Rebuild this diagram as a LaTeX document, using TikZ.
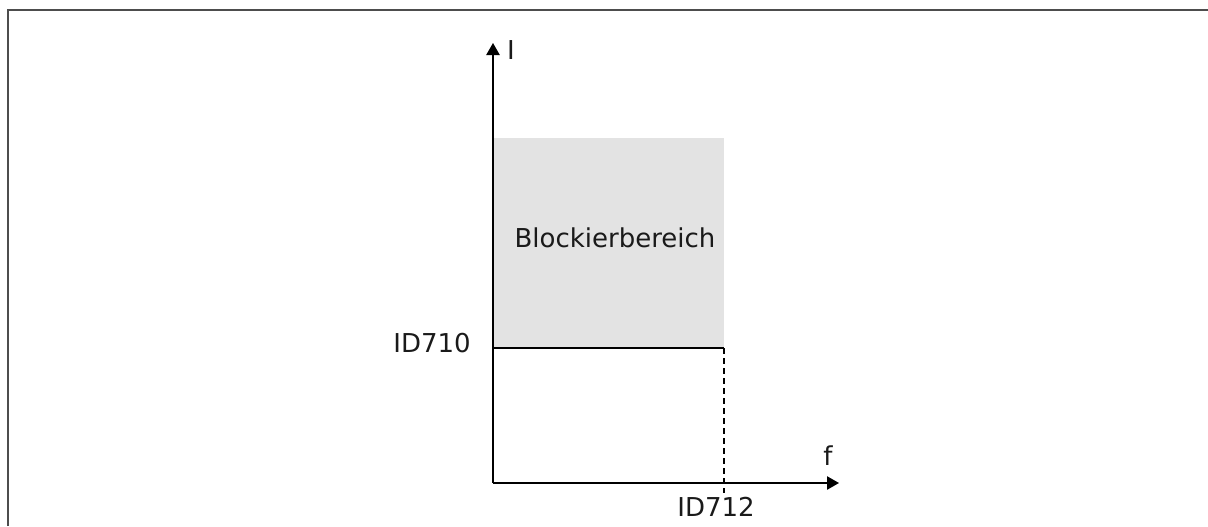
\documentclass[tikz,border=0pt]{standalone}
\usepackage{fontspec}
\setmainfont{DejaVu Sans}
\usetikzlibrary{arrows.meta}
\definecolor{areagray}{HTML}{E3E3E3}
\definecolor{framegray}{HTML}{4D4D4D}
\definecolor{txt}{HTML}{1A1A1A}
\begin{document}
\begin{tikzpicture}[x=0.75pt,y=-0.75pt,
                    lbl/.style={inner sep=0pt,anchor=base,text=txt,
                                font=\fontsize{19.5}{23}\selectfont},
                    axis/.style={line width=1.1pt,-{Triangle[length=9pt,width=10pt]}}]
  % stall region: current I above ID710 while frequency f is below ID712
  \useasboundingbox (0,0) rectangle (1208,526);
  \draw[framegray,line width=1.6pt] (8,526) -- (8,10) -- (1208,10);
  \fill[areagray] (493,138) rectangle (724,348);
  \coordinate (O) at (493,483);
  \coordinate (ytip) at (493,43);
  \coordinate (xtip) at (839,483);
  \coordinate (lvl) at (493,348);
  \coordinate (lim) at (724,348);
  \coordinate (dend) at (724,493);
  \draw[line width=1.1pt] (lvl) -- (lim);
  \draw[line width=1.1pt,dash pattern=on 4.5pt off 3pt] (lim) -- (dend);
  \draw[axis] (O) -- (ytip);
  \draw[axis] (O) -- (xtip);
  \node[lbl] (labI) at (511,59) {I};
  \node[lbl] (labf) at (828,465) {f};
  \node[lbl] (lab710) at (432,352) {ID710};
  \node[lbl] (lab712) at (716,516) {ID712};
  \node[lbl] (area) at (615,247) {Blockierbereich};
\end{tikzpicture}
\end{document}
